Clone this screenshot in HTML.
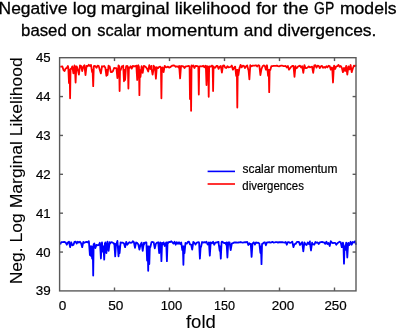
<!DOCTYPE html>
<html><head><meta charset="utf-8"><style>
html,body{margin:0;padding:0;background:#fff;}
body{width:397px;height:329px;overflow:hidden;}
svg{display:block;font-family:"Liberation Sans",sans-serif;will-change:transform;font-kerning:none;}
</style></head><body>
<svg width="397" height="329" viewBox="0 0 397 329">
<rect width="397" height="329" fill="#fff"/>
<g fill="#000" stroke="#000" stroke-width="0.3"><text x="-1.43" y="13.8" font-size="16.4" textLength="68.80" lengthAdjust="spacingAndGlyphs">Negative</text><text x="72.70" y="13.8" font-size="16.4" textLength="23.75" lengthAdjust="spacingAndGlyphs">log</text><text x="100.71" y="13.8" font-size="16.4" textLength="68.79" lengthAdjust="spacingAndGlyphs">marginal</text><text x="174.67" y="13.8" font-size="16.4" textLength="76.21" lengthAdjust="spacingAndGlyphs">likelihood</text><text x="256.24" y="13.8" font-size="16.4" textLength="21.16" lengthAdjust="spacingAndGlyphs">for</text><text x="283.22" y="13.8" font-size="16.4" textLength="25.28" lengthAdjust="spacingAndGlyphs">the</text><text x="314.10" y="13.8" font-size="16.4" textLength="20.14" lengthAdjust="spacingAndGlyphs">GP</text><text x="339.93" y="13.8" font-size="16.4" textLength="56.70" lengthAdjust="spacingAndGlyphs">models</text><text x="21.12" y="35.6" font-size="16.4" textLength="45.66" lengthAdjust="spacingAndGlyphs">based</text><text x="71.24" y="35.6" font-size="16.4" textLength="20.14" lengthAdjust="spacingAndGlyphs">on</text><text x="97.34" y="35.6" font-size="16.4" textLength="43.83" lengthAdjust="spacingAndGlyphs">scalar</text><text x="145.97" y="35.6" font-size="16.4" textLength="92.34" lengthAdjust="spacingAndGlyphs">momentum</text><text x="243.87" y="35.6" font-size="16.4" textLength="28.64" lengthAdjust="spacingAndGlyphs">and</text><text x="277.57" y="35.6" font-size="16.4" textLength="98.82" lengthAdjust="spacingAndGlyphs">divergences.</text></g>
<polyline points="60.20,66.58 61.30,66.65 62.40,66.39 63.50,70.00 64.60,71.00 65.70,68.47 66.80,67.87 67.90,65.93 68.26,67.30 69.00,83.00 69.74,70.00 69.65,70.00 70.10,98.30 70.55,69.00 71.20,69.00 72.30,66.32 73.40,73.40 74.50,65.51 74.84,66.29 75.60,82.50 76.36,66.29 76.70,66.28 77.80,69.70 77.82,69.70 78.90,74.60 79.98,65.41 80.00,66.64 81.10,65.98 82.20,71.00 83.30,66.50 84.40,65.22 84.45,65.96 85.50,75.20 86.55,65.96 86.60,66.68 87.70,66.19 88.80,64.72 89.90,65.98 91.00,64.89 92.10,72.00 92.58,70.00 93.20,86.10 93.82,66.05 94.30,65.99 95.40,66.20 96.50,67.86 97.60,65.73 98.70,65.87 99.80,70.00 100.90,73.40 102.00,66.26 103.10,66.54 104.20,65.97 105.30,67.69 105.37,67.94 106.40,75.80 107.43,70.00 106.44,70.00 107.50,75.00 108.56,65.66 108.60,67.59 109.70,66.46 110.80,72.00 111.90,72.00 113.00,71.00 114.10,68.00 115.20,68.18 116.30,68.08 116.47,68.31 117.40,78.20 118.33,68.31 118.50,65.49 119.15,66.11 119.60,91.00 120.05,70.00 120.70,70.00 121.80,66.35 122.90,66.14 123.19,65.61 124.00,81.30 124.81,70.00 124.24,70.00 125.10,80.00 125.96,67.80 126.20,66.09 127.30,65.91 127.88,66.82 128.40,88.60 128.92,68.00 129.50,68.00 130.60,66.18 131.70,68.65 132.80,65.85 133.90,66.51 135.00,66.12 136.10,66.38 136.34,65.61 137.20,80.00 138.06,65.61 138.30,65.24 138.95,66.80 139.40,95.20 139.85,70.00 139.52,70.00 140.50,77.00 141.48,67.23 141.60,66.26 142.70,72.80 143.80,65.80 144.90,66.31 146.00,67.25 147.10,68.79 148.20,71.50 149.30,65.18 150.40,69.00 151.50,65.86 151.52,68.66 152.60,74.60 153.68,68.66 153.70,65.77 154.80,68.30 154.99,67.06 155.90,78.80 156.81,67.06 157.00,67.57 158.10,68.10 159.20,66.79 160.30,66.60 160.95,67.96 161.40,98.30 161.85,67.96 162.50,67.33 163.60,72.00 164.70,65.96 165.80,67.02 166.90,67.30 168.00,66.56 169.10,67.70 170.20,67.19 171.30,66.32 172.40,65.63 173.50,65.47 174.60,65.64 175.70,66.80 176.80,66.30 177.90,66.64 179.00,67.78 179.18,65.95 180.10,78.40 181.02,65.95 181.20,66.81 182.30,66.04 183.40,66.26 184.50,68.00 185.60,66.42 186.70,66.34 187.80,66.10 188.90,65.94 189.55,66.40 190.00,99.00 190.45,70.00 190.65,70.00 191.10,110.80 191.55,65.37 192.20,66.77 193.30,65.35 194.40,68.00 195.50,65.83 196.60,65.99 197.70,66.10 198.35,67.12 198.80,94.50 199.25,67.12 199.90,66.19 201.00,66.31 202.10,66.36 203.20,65.71 204.30,67.30 205.40,65.68 205.84,66.04 206.50,85.00 207.16,66.04 207.60,66.83 208.25,66.64 208.70,96.80 209.15,66.64 209.80,66.41 210.90,66.65 212.00,65.52 212.65,66.51 213.10,91.00 213.55,66.51 214.20,67.82 215.30,67.68 216.40,66.01 217.50,65.85 218.60,68.94 219.70,66.63 220.80,65.89 221.90,72.50 223.00,65.62 224.10,65.41 225.20,67.54 226.30,67.98 227.40,66.22 228.50,67.27 229.60,67.15 230.70,66.75 231.80,65.57 232.90,69.70 234.00,67.94 235.10,66.59 235.18,66.56 236.20,76.00 237.22,70.00 236.85,70.00 237.30,107.50 237.75,70.00 237.34,70.00 238.40,75.00 239.46,67.98 239.50,68.39 240.60,64.88 241.70,67.37 242.80,65.65 243.90,65.83 245.00,68.00 246.10,66.17 247.20,65.35 248.30,69.70 248.52,69.70 249.40,79.40 250.28,65.24 250.50,65.46 251.60,66.23 252.70,65.60 253.80,65.60 254.90,65.62 256.00,65.26 257.10,66.50 258.20,65.26 259.30,66.03 259.35,65.56 260.40,75.20 261.45,69.00 261.50,69.00 262.60,66.24 263.70,65.44 264.80,65.75 265.90,69.70 267.00,65.26 267.07,65.95 268.10,75.80 269.13,70.00 268.75,70.00 269.20,92.20 269.65,70.00 270.30,70.00 271.40,66.03 272.50,66.12 273.60,65.83 274.70,65.97 275.80,65.92 276.90,65.68 278.00,66.15 279.10,66.28 280.20,65.91 281.30,65.67 282.40,65.72 283.50,66.13 284.60,66.19 285.70,65.97 286.80,67.50 287.90,65.96 289.00,69.70 290.10,68.23 291.20,66.69 292.30,66.01 293.40,66.02 293.51,66.12 294.50,76.80 295.49,66.12 295.60,67.58 296.70,68.24 297.80,66.78 298.90,66.01 300.00,65.73 301.10,67.50 302.20,66.14 303.30,72.80 304.40,65.12 305.50,68.00 306.60,68.06 307.70,67.44 308.80,66.34 309.90,67.28 311.00,67.00 312.10,66.74 313.20,72.80 314.30,65.43 315.40,65.19 316.50,67.61 317.60,65.65 318.70,65.78 319.80,68.10 320.90,66.37 322.00,65.83 323.10,67.83 324.20,67.00 325.30,67.78 326.40,66.20 327.50,67.29 328.60,65.78 329.70,66.08 330.80,69.70 331.90,67.46 332.24,68.19 333.00,82.50 333.76,68.19 334.10,65.61 335.20,69.00 336.30,66.45 337.40,66.24 338.50,64.90 339.60,66.72 340.70,65.95 341.80,67.65 342.90,72.20 344.00,67.93 345.10,71.00 346.20,65.87 346.22,66.40 347.30,74.60 348.38,66.40 348.40,66.59 349.50,69.37 350.60,65.01 351.70,72.20 352.80,68.46 353.90,65.62 355.00,66.15 356.10,65.31" fill="none" stroke="#ff0000" stroke-width="1.8" stroke-linejoin="round"/>
<polyline points="60.20,244.50 61.30,242.07 62.40,242.19 63.50,242.02 64.60,241.95 65.70,242.61 66.80,244.70 67.90,242.53 69.00,241.63 70.10,247.20 71.20,242.28 72.30,245.30 73.40,245.00 74.50,241.85 75.60,241.55 76.70,243.52 77.80,241.80 78.90,242.55 80.00,241.77 81.10,243.22 82.20,247.20 83.30,241.83 84.40,242.73 85.50,242.18 86.60,241.80 87.70,242.38 88.80,241.24 88.98,242.31 89.90,255.00 90.82,246.40 90.12,246.40 91.00,256.00 91.88,246.40 91.32,246.40 92.10,258.50 92.88,246.40 92.75,246.40 93.20,275.50 93.65,244.29 94.30,243.41 95.40,248.00 96.50,244.85 97.60,245.27 98.70,245.17 99.80,242.78 100.12,244.50 100.90,258.50 101.68,244.50 102.00,242.29 102.06,243.92 103.10,252.00 104.14,246.40 103.47,246.40 104.20,259.60 104.93,243.19 105.30,243.46 105.41,242.48 106.40,253.20 107.39,242.48 107.50,241.58 107.52,242.05 108.60,250.80 109.68,242.05 109.70,244.07 110.80,242.58 111.90,242.22 113.00,242.77 114.10,244.11 114.34,243.60 115.20,256.40 116.06,243.60 116.30,244.48 117.40,240.97 117.64,243.93 118.50,256.30 119.36,246.40 118.61,246.40 119.60,253.20 120.59,242.40 120.70,243.07 121.80,242.72 122.90,242.68 124.00,243.47 125.10,247.20 126.20,241.85 127.30,244.76 128.40,243.19 129.50,242.21 130.60,242.84 131.70,242.70 132.80,241.28 133.90,242.26 135.00,247.80 136.10,242.49 137.20,242.95 138.30,244.31 139.40,249.60 140.50,244.74 141.60,242.63 141.62,243.01 142.70,250.80 143.78,243.01 143.80,244.91 144.90,242.58 146.00,242.36 146.40,242.30 147.10,260.50 147.80,246.40 147.75,246.40 148.20,270.80 148.65,246.40 148.74,246.40 149.30,264.00 149.86,246.40 150.40,247.00 151.50,242.15 152.60,242.01 153.70,242.43 154.80,248.40 155.90,243.75 157.00,242.59 158.10,242.49 158.21,242.30 159.20,253.20 160.19,242.30 160.30,242.75 160.73,242.88 161.40,261.10 162.07,242.88 162.50,244.53 163.60,242.32 164.70,246.00 165.80,243.27 166.23,242.37 166.90,261.10 167.57,242.37 168.00,243.26 169.10,241.82 170.20,242.11 171.30,241.26 172.40,242.38 173.50,243.59 174.60,241.79 175.70,244.70 176.80,242.15 177.90,243.89 179.00,242.31 180.10,243.99 181.20,242.44 182.30,250.00 182.88,246.40 183.40,264.80 183.92,246.40 183.51,246.40 184.50,253.20 185.49,242.92 185.60,243.57 186.70,243.65 187.80,241.94 188.90,241.70 190.00,244.44 191.10,244.55 192.20,249.60 193.30,241.90 194.40,242.66 195.50,244.62 196.60,242.87 197.70,242.30 198.80,242.14 199.13,243.08 199.90,258.70 200.67,246.40 201.00,247.00 202.10,242.02 203.20,242.52 204.30,242.21 205.40,242.61 206.50,241.73 207.60,244.46 208.70,243.64 208.91,242.32 209.80,255.70 210.69,242.32 210.90,242.58 212.00,243.29 213.10,241.71 214.20,244.72 215.30,242.62 216.40,242.50 217.50,242.05 218.60,241.84 218.62,243.26 219.70,250.80 220.78,246.40 220.03,246.40 220.80,258.70 221.57,242.36 221.90,241.57 223.00,242.22 224.10,243.07 225.20,242.85 226.30,244.81 226.58,242.48 227.40,257.50 228.22,242.48 228.50,242.49 229.60,242.44 230.70,250.20 231.80,243.62 232.90,243.10 234.00,242.48 235.10,242.51 236.20,242.40 237.30,242.55 238.40,242.50 239.50,242.44 240.60,242.02 241.70,242.34 242.80,242.60 243.90,242.40 245.00,242.18 246.10,242.25 247.20,241.91 248.30,245.00 249.40,243.22 250.50,244.60 250.76,243.85 251.60,256.90 252.44,243.85 252.70,243.40 253.80,242.29 254.90,244.63 256.00,242.43 257.10,242.97 258.20,242.75 259.30,243.46 259.40,243.78 260.40,253.00 261.40,246.40 260.95,246.40 261.50,264.20 262.05,244.00 262.60,244.00 263.70,242.51 264.80,242.28 265.90,245.30 267.00,242.30 268.10,242.30 269.20,242.11 270.30,242.61 271.40,242.46 272.50,241.81 273.60,242.65 274.70,242.45 275.80,242.17 276.90,242.17 278.00,242.57 279.10,242.06 280.20,242.24 281.30,242.21 282.40,242.24 283.50,242.44 284.60,242.61 285.70,242.03 286.80,244.70 287.90,242.19 289.00,242.09 290.10,242.94 291.20,242.51 292.30,241.64 293.40,247.20 294.50,244.11 295.60,243.90 296.70,242.21 297.80,241.85 298.90,241.91 300.00,244.99 301.10,243.40 302.20,242.24 302.24,242.75 303.30,251.40 304.36,242.75 304.40,242.45 305.50,244.21 306.60,245.00 307.70,242.53 308.80,244.09 309.90,241.34 309.90,242.63 311.00,250.50 312.10,242.63 312.10,243.15 313.20,244.43 314.30,244.66 315.40,241.98 316.50,242.74 317.60,242.48 318.70,244.00 319.80,242.32 320.90,242.25 322.00,241.80 323.10,242.36 324.20,242.42 325.30,243.89 326.40,241.73 327.50,244.04 328.60,243.04 329.70,246.00 330.80,241.21 331.90,242.60 333.00,243.08 334.10,242.95 335.20,242.87 336.30,244.70 337.40,243.15 338.50,242.44 339.60,241.74 340.70,242.23 341.80,247.20 342.90,242.59 343.43,244.74 344.00,263.60 344.57,246.40 345.10,250.00 346.20,242.60 346.48,243.41 347.30,257.50 348.12,243.41 348.40,242.91 349.50,245.00 350.60,241.79 351.70,244.70 352.80,241.93 353.90,242.52 355.00,241.27 356.10,244.74" fill="none" stroke="#0000ff" stroke-width="1.8" stroke-linejoin="round"/>
<g stroke="#5a5a5a" stroke-width="1.4" fill="none">
<rect x="59.6" y="57.7" width="296.4" height="233.2"/>
<line x1="114.50" y1="290.9" x2="114.50" y2="287.5"/><line x1="114.50" y1="57.7" x2="114.50" y2="61.1"/><line x1="169.50" y1="290.9" x2="169.50" y2="287.5"/><line x1="169.50" y1="57.7" x2="169.50" y2="61.1"/><line x1="224.50" y1="290.9" x2="224.50" y2="287.5"/><line x1="224.50" y1="57.7" x2="224.50" y2="61.1"/><line x1="279.50" y1="290.9" x2="279.50" y2="287.5"/><line x1="279.50" y1="57.7" x2="279.50" y2="61.1"/><line x1="334.50" y1="290.9" x2="334.50" y2="287.5"/><line x1="334.50" y1="57.7" x2="334.50" y2="61.1"/><line x1="59.6" y1="252.05" x2="63" y2="252.05"/><line x1="356" y1="252.05" x2="352.6" y2="252.05"/><line x1="59.6" y1="213.18" x2="63" y2="213.18"/><line x1="356" y1="213.18" x2="352.6" y2="213.18"/><line x1="59.6" y1="174.31" x2="63" y2="174.31"/><line x1="356" y1="174.31" x2="352.6" y2="174.31"/><line x1="59.6" y1="135.44" x2="63" y2="135.44"/><line x1="356" y1="135.44" x2="352.6" y2="135.44"/><line x1="59.6" y1="96.57" x2="63" y2="96.57"/><line x1="356" y1="96.57" x2="352.6" y2="96.57"/>
</g>
<g fill="#000" stroke="#000" stroke-width="0.2">
<text x="58.87" y="309.7" font-size="13.0" textLength="7.56" lengthAdjust="spacingAndGlyphs">0</text><text x="108.25" y="309.7" font-size="13.0" textLength="15.18" lengthAdjust="spacingAndGlyphs">50</text><text x="160.66" y="309.7" font-size="13.0" textLength="21.64" lengthAdjust="spacingAndGlyphs">100</text><text x="214.04" y="309.7" font-size="13.0" textLength="21.05" lengthAdjust="spacingAndGlyphs">150</text><text x="271.82" y="309.7" font-size="13.0" textLength="22.51" lengthAdjust="spacingAndGlyphs">200</text><text x="324.43" y="309.7" font-size="13.0" textLength="22.29" lengthAdjust="spacingAndGlyphs">250</text>
<text x="35.69" y="295.42" font-size="13.0" textLength="14.95" lengthAdjust="spacingAndGlyphs">39</text><text x="35.90" y="256.55" font-size="13.0" textLength="14.61" lengthAdjust="spacingAndGlyphs">40</text><text x="35.90" y="217.68" font-size="13.0" textLength="14.75" lengthAdjust="spacingAndGlyphs">41</text><text x="35.90" y="178.81" font-size="13.0" textLength="14.77" lengthAdjust="spacingAndGlyphs">42</text><text x="35.90" y="139.94" font-size="13.0" textLength="14.68" lengthAdjust="spacingAndGlyphs">43</text><text x="35.90" y="101.07" font-size="13.0" textLength="14.48" lengthAdjust="spacingAndGlyphs">44</text><text x="35.90" y="62.2" font-size="13.0" textLength="14.66" lengthAdjust="spacingAndGlyphs">45</text>
<text x="242.47" y="172.6" font-size="12" textLength="95.02" lengthAdjust="spacingAndGlyphs">scalar momentum</text><text x="242.32" y="189.5" font-size="12" textLength="61.59" lengthAdjust="spacingAndGlyphs">divergences</text>
</g>
<g fill="#000" stroke="#000" stroke-width="0.1">
<text x="185.94" y="328" font-size="18" textLength="29.86" lengthAdjust="spacingAndGlyphs">fold</text>
<text transform="translate(21.9,282.9) rotate(-90)" x="-1.44" y="0" font-size="16.8" textLength="227.17" lengthAdjust="spacingAndGlyphs">Neg. Log Marginal Likelihood</text>
</g>
<line x1="207.6" y1="171.4" x2="235" y2="171.4" stroke="#0000ff" stroke-width="1.6"/>
<line x1="207.6" y1="184.0" x2="235" y2="184.0" stroke="#ff0000" stroke-width="1.6"/>
</svg>
</body></html>
